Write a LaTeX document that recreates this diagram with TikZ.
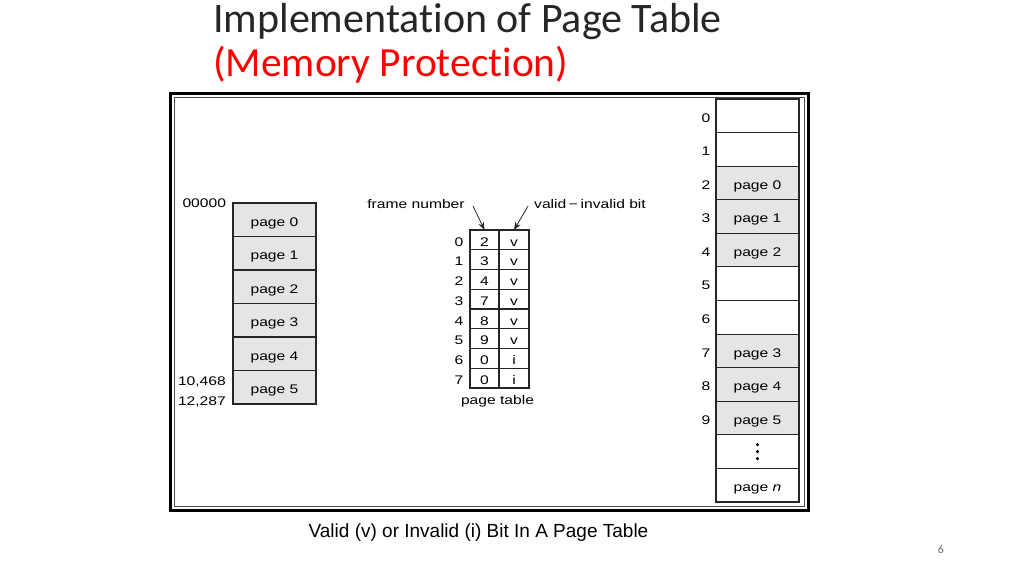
\documentclass[tikz,border=0pt]{standalone}
\usepackage{fontspec}
\usepackage{graphicx}
\setmainfont{Liberation Sans}
\newfontfamily\titlefont[Ligatures={NoCommon}]{Carlito}
\usetikzlibrary{arrows.meta}
\newcommand{\wt}[1]{\scalebox{1.25}[1]{#1}}
\definecolor{cellgray}{RGB}{229,229,229}
\definecolor{titlered}{RGB}{255,0,0}
\tikzset{
  lbl/.style={inner sep=0pt, outer sep=0pt, anchor=base, font=\fontsize{12.5}{14}\selectfont},
  intext/.style={text height=12.5pt, text depth=0pt, font=\fontsize{12.5}{14}\selectfont},
  membox/.style={draw=black!85, line width=1.1pt, minimum width=83pt, inner sep=0pt, outer sep=0pt, intext},
  usedbox/.style={membox, fill=cellgray},
  ptcell/.style={draw=black!85, line width=1.1pt, minimum height=19.75pt, inner sep=0pt, outer sep=0pt, intext},
  ptarrow/.style={-{Stealth[length=8pt,width=6pt]}, line width=0.8pt, black!85},
}
\begin{document}
\begin{tikzpicture}[x=1pt,y=-1pt]
\useasboundingbox[fill=white] (0,0) rectangle (1024,576);
% title
\node[anchor=base west, inner sep=0pt, font=\titlefont\fontsize{42}{46}\selectfont, text=black!85] (title1) at (213,32) {Implementation of Page Table};
\node[anchor=base west, inner sep=0pt, font=\titlefont\fontsize{41.5}{46}\selectfont, text=titlered] (title2) at (213,76) {(Memory Protection)};
% frame
\draw[line width=3pt] (170.5,93.5) rectangle (808.5,510);
\draw[line width=1pt, black!70] (174.5,97.5) rectangle (804.5,506);
% logical memory (left)
\foreach \i in {0,...,5} {
  \node[usedbox, minimum height=33.5pt] (L\i) at (274.5,{203+33.5*(\i+0.5)}) {\wt{page \i}};
}
\node[lbl, anchor=base east] (a0) at (226,207.5) {\wt{00000}};
\node[lbl, anchor=base west] (a1) at (178,385.5) {\wt{10,468}};
\node[lbl, anchor=base west] (a2) at (178,405) {\wt{12,287}};
% page table
\foreach \i/\f/\b in {0/2/v,1/3/v,2/4/v,3/7/v,4/8/v,5/9/v,6/0/i,7/0/i} {
  \node[ptcell, minimum width=29pt] (PF\i) at (484.5,{230+19.75*(\i+0.5)}) {\wt{\f}};
  \node[ptcell, minimum width=30pt] (PB\i) at (514,{230+19.75*(\i+0.5)}) {\wt{\b}};
  \node[intext, inner sep=0pt] (PI\i) at (459,{230+19.75*(\i+0.5)}) {\wt{\i}};
}
\node[lbl] (fn) at (416,208) {\wt{frame number}};
\node[lbl] (vib) at (590,208) {\wt{valid\,\textminus\,invalid bit}};
\node[lbl] (ptl) at (497.5,404.5) {\wt{page table}};
\coordinate (fnA) at (473,206);
\coordinate (vibA) at (528,206);
\draw[ptarrow] (fnA) -- (PF0.north);
\draw[ptarrow] (vibA) -- (PB0.north);
% physical memory (right)
\foreach \i/\t/\s in {0//membox,1//membox,2/page 0/usedbox,3/page 1/usedbox,4/page 2/usedbox,5//membox,6//membox,7/page 3/usedbox,8/page 4/usedbox,9/page 5/usedbox,10//membox,11/page \textit{n}/membox} {
  \node[\s, minimum height=33.58pt] (F\i) at (757.5,{99+33.58*(\i+0.5)}) {\wt{\t}};
}
\foreach \i in {0,...,9} {
  \node[intext, inner sep=0pt] (N\i) at (706,{99+33.58*(\i+0.5)}) {\wt{\i}};
}
\foreach \d in {-7,0,7} {
  \fill (F10.center) ++(0,\d) circle (1.7pt);
}
% caption
\node[inner sep=0pt, font=\fontsize{19}{22}\selectfont] (cap) at (478.5,533) {Valid (v) or Invalid (i) Bit In A Page Table};
\node[inner sep=0pt, font=\titlefont\fontsize{12}{14}\selectfont, text=black!55] (pnum) at (941,549) {6};
\end{tikzpicture}
\end{document}
